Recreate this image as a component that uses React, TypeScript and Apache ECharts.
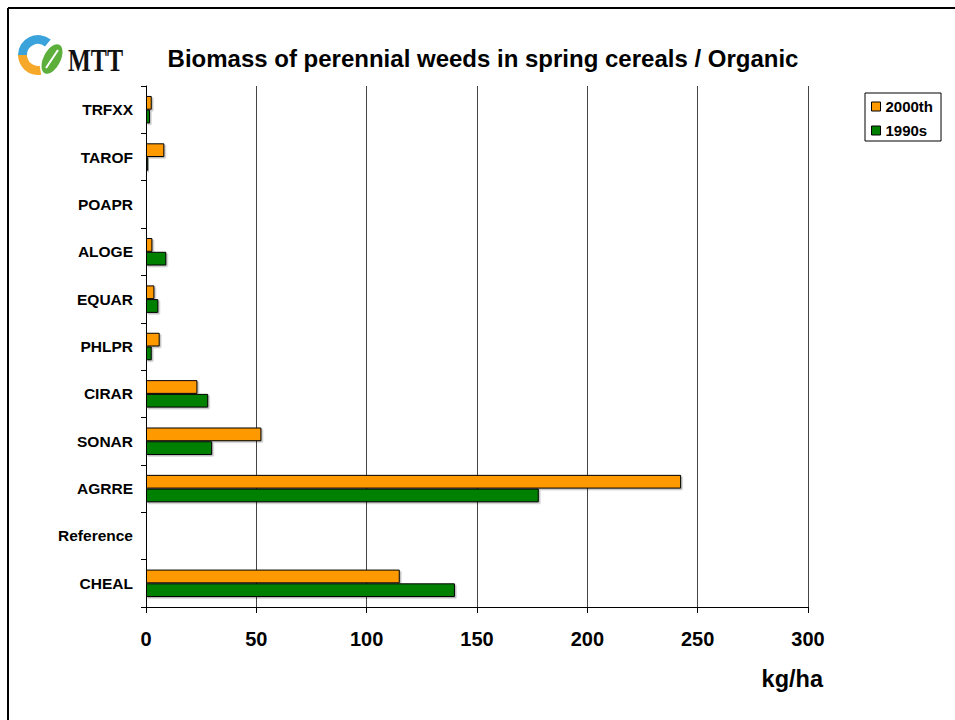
import React, { useEffect, useRef } from "react";
import * as echarts from "echarts";

const categories = ["CHEAL", "Reference", "AGRRE", "SONAR", "CIRAR", "PHLPR", "EQUAR", "ALOGE", "POAPR", "TAROF", "TRFXX"];
const values2000th = [115, 0, 242.5, 52.3, 23.3, 6.2, 3.8, 2.9, 0, 8.3, 2.6];
const values1990s = [140, 0, 178, 30.0, 28.2, 2.6, 5.6, 9.2, 0, 1.0, 1.8];
const xTicks = { min: 0, max: 300, interval: 50 };
const titleText = "Biomass of perennial weeds in spring cereals / Organic";
const unitText = "kg/ha";

export default function App() {
  const ref = useRef<HTMLDivElement>(null);
  useEffect(() => {
    document.body.style.margin = "0";
    const chart = echarts.init(ref.current!, null, { renderer: "svg" });
    const font = "Arial, 'Liberation Sans', sans-serif";
    const barStyle = (color: string) => ({
      color,
      borderColor: "#000",
      borderWidth: 1,
      shadowColor: "rgba(0,0,0,0.25)",
      shadowOffsetX: 1.5,
      shadowOffsetY: 1.5,
      shadowBlur: 0,
    });
    chart.setOption({
      animation: false,
      backgroundColor: "#fff",
      textStyle: { fontFamily: font },
      title: {
        text: titleText,
        left: 478,
        top: 41,
        textAlign: "center",
        textStyle: { fontSize: 24, fontWeight: "bold", color: "#000", fontFamily: font },
      },
      legend: {
        data: ["2000th", "1990s"],
        orient: "vertical",
        left: 865,
        top: 93,
        itemWidth: 9,
        itemHeight: 9,
        itemGap: 9,
        icon: "rect",
        padding: [6, 8, 3, 6],
        borderColor: "#000",
        borderWidth: 1,
        itemStyle: { borderColor: "#000", borderWidth: 1 },
        textStyle: { fontSize: 15, fontWeight: "bold", color: "#000", fontFamily: font },
      },
      grid: { left: 146, right: 147, top: 86, bottom: 113, containLabel: false },
      xAxis: {
        type: "value",
        min: xTicks.min,
        max: xTicks.max,
        interval: xTicks.interval,
        axisLine: { show: true, lineStyle: { color: "#000", width: 1 } },
        axisTick: { show: true, length: 6, lineStyle: { color: "#000" } },
        splitLine: { show: true, lineStyle: { color: "#444", width: 1 } },
        axisLabel: { fontSize: 20, fontWeight: "bold", color: "#000", margin: 22, fontFamily: font },
      },
      yAxis: {
        type: "category",
        data: categories,
        axisLine: { show: true, lineStyle: { color: "#000", width: 1 } },
        axisTick: { show: true, length: 5, lineStyle: { color: "#000" } },
        axisLabel: { fontSize: 15.5, fontWeight: "bold", color: "#000", margin: 13, fontFamily: font },
      },
      series: [
        {
          name: "2000th",
          type: "bar",
          data: values2000th,
          barGap: "0%",
          barCategoryGap: "42%",
          itemStyle: barStyle("#FF9900"),
        },
        {
          name: "1990s",
          type: "bar",
          data: values1990s,
          barGap: "0%",
          barCategoryGap: "42%",
          itemStyle: barStyle("#008000"),
        },
      ],
      graphic: [
        { type: "line", shape: { x1: 8, y1: 8, x2: 955, y2: 8 }, style: { stroke: "#000", lineWidth: 2 } },
        { type: "line", shape: { x1: 8, y1: 8, x2: 8, y2: 720 }, style: { stroke: "#000", lineWidth: 2 } },
        {
          type: "text",
          right: 132,
          top: 667,
          style: { text: unitText, fontSize: 23.5, fontWeight: "bold", fill: "#000", fontFamily: font },
        },
        // logo
        {
          type: "sector",
          shape: { cx: 38, cy: 55, r: 20, r0: 11, startAngle: -Math.PI, endAngle: -0.28 * Math.PI },
          style: { fill: "#3BA3DB" },
        },
        {
          type: "sector",
          shape: { cx: 38, cy: 55, r: 20, r0: 11, startAngle: 0.45 * Math.PI, endAngle: Math.PI },
          style: { fill: "#F6A82A" },
        },
        {
          type: "ellipse",
          shape: { cx: 0, cy: 0, rx: 16, ry: 8.5 },
          x: 52,
          y: 59,
          rotation: Math.PI * 0.35,
          style: { fill: "#5BAF3A" },
        },
        {
          type: "line",
          shape: { x1: 46, y1: 68, x2: 58, y2: 50 },
          style: { stroke: "#fff", lineWidth: 2 },
        },
        {
          type: "text",
          x: 68,
          y: 76,
          scaleX: 0.78,
          style: {
            text: "MTT",
            fontSize: 31,
            fontWeight: "bold",
            fill: "#111",
            fontFamily: "'Liberation Serif', 'DejaVu Serif', serif",
            verticalAlign: "bottom",
          },
        },
      ],
    });
    return () => chart.dispose();
  }, []);
  return <div ref={ref} style={{ width: 955, height: 720 }} />;
}
